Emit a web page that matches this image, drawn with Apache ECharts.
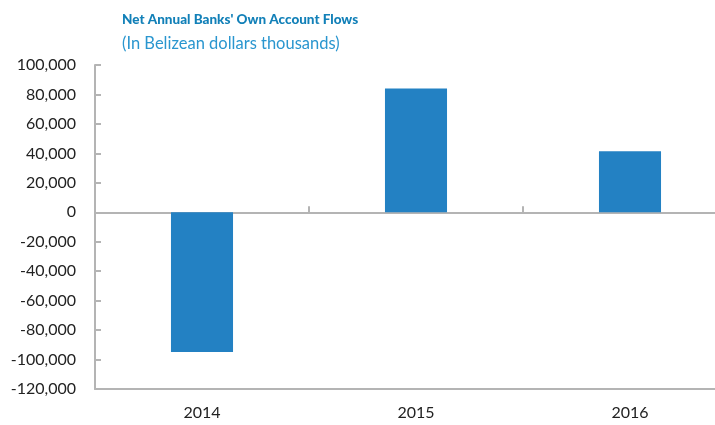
<!DOCTYPE html>
<html><head><meta charset="utf-8">
<script src="https://cdn.jsdelivr.net/npm/echarts@6/dist/echarts.min.js"></script>
<style>html,body{margin:0;padding:0;background:#fff;overflow:hidden}#c{width:737px;height:425px}</style>
</head><body><div id="c"></div>
<script>
var categories = ['2014', '2015', '2016'];
var flows = [-94800, 84000, 41500];
var yTicks = [-120000, 100000, 20000]; // min, max, interval

var chart = echarts.init(document.getElementById('c'), null, {renderer: 'canvas'});
var font = 'Lato';
chart.setOption({
  animation: false,
  title: [{
    text: "Net Annual Banks' Own Account Flows",
    left: 117, top: 8,
    textStyle: {fontFamily: font, fontSize: 13.5, fontWeight: 900, color: '#1280b8'}
  }, {
    text: '(In Belizean dollars thousands)',
    left: 117, top: 30,
    textStyle: {fontFamily: font, fontSize: 16.5, fontWeight: 'normal', color: '#2a96cf'}
  }],
  grid: {left: 95, right: 0, top: 65, bottom: 36, containLabel: false},
  xAxis: [{
    type: 'category', data: categories,
    axisLine: {onZero: true, lineStyle: {color: '#b4b4b4', width: 2}},
    axisTick: {show: true, inside: true, length: 6, lineStyle: {color: '#b4b4b4', width: 2}},
    axisLabel: {show: false}
  }, {
    type: 'category', data: categories, position: 'bottom',
    axisLine: {onZero: false, lineStyle: {color: '#b4b4b4', width: 2}},
    axisTick: {show: false},
    axisLabel: {show: true, margin: 16, fontFamily: font, fontSize: 16, color: '#222'}
  }],
  yAxis: {
    type: 'value', min: yTicks[0], max: yTicks[1], interval: yTicks[2],
    axisLine: {show: true, lineStyle: {color: '#b4b4b4', width: 2}},
    axisTick: {show: true, inside: true, length: 6, lineStyle: {color: '#b4b4b4', width: 2}},
    splitLine: {show: false},
    axisLabel: {
      margin: 19, fontFamily: font, fontSize: 16, color: '#222',
      formatter: function (v) { return v.toLocaleString('en-US'); }
    }
  },
  series: [{
    type: 'bar', data: flows, xAxisIndex: 0, barWidth: '29%',
    itemStyle: {color: '#2381c3'}
  }]
});
</script></body></html>
